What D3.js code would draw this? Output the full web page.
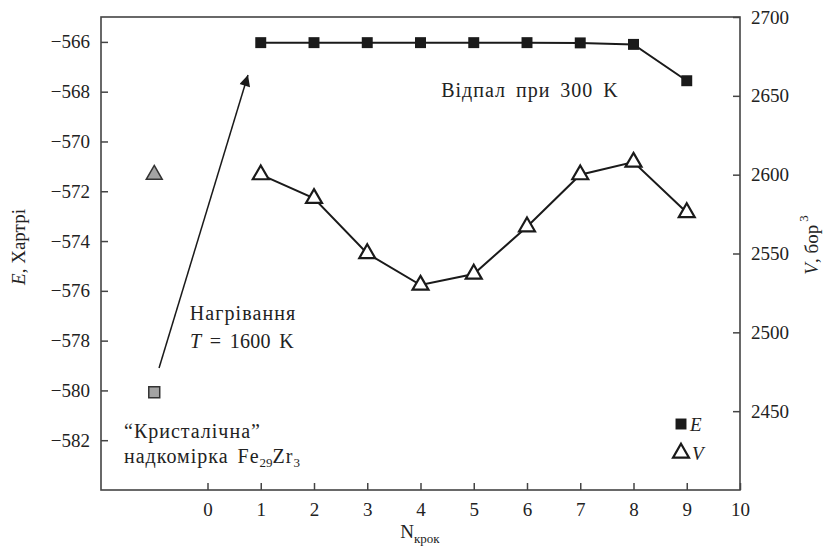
<!DOCTYPE html>
<html><head><meta charset="utf-8">
<script src="https://cdn.jsdelivr.net/npm/d3@7"></script>
<style>body{margin:0;background:#fff}svg{display:block}</style>
</head><body>
<script>
// ---- data ----
const steps = [1, 2, 3, 4, 5, 6, 7, 8, 9];
const energy = [-566.03, -566.03, -566.03, -566.03, -566.03, -566.03, -566.04, -566.1, -567.56];
const volume = [2600, 2585, 2550, 2530, 2537, 2567, 2600, 2608, 2576];
const initialStep = -1;
const initialEnergy = -580.07;
const initialVolume = 2600;
const xTicks = [0, 1, 2, 3, 4, 5, 6, 7, 8, 9, 10];
const eTicks = [-582, -580, -578, -576, -574, -572, -570, -568, -566];
const vTicks = [2450, 2500, 2550, 2600, 2650, 2700];
const arrowFrom = [-0.91, -579.1];
const arrowTo = [0.76, -567.33];

const W = 824, H = 548;
const m = {left: 101, right: 740, top: 17, bottom: 490};
const FONT = "'Liberation Serif'";
const svg = d3.select("body").append("svg").attr("width", W).attr("height", H)
  .attr("font-family", FONT);

const x = d3.scaleLinear().domain([-2, 10]).range([m.left, m.right]);
const yE = d3.scaleLinear().domain([-584, -565]).range([m.bottom, m.top]);
const yV = d3.scaleLinear().domain([2400, 2700]).range([m.bottom, m.top]);

const axisColor = "#444";
const fs = 19;
const afs = 20;

function styleAxis(g) {
  g.attr("font-family", FONT);
  g.select(".domain").remove();
  g.selectAll(".tick line").attr("stroke", axisColor).attr("stroke-width", 1.5);
  g.selectAll(".tick text").attr("font-size", fs).attr("fill", "#222")
    .attr("font-family", FONT);
}

svg.append("g").attr("transform", `translate(${m.left},0)`)
  .call(d3.axisLeft(yE).tickValues(eTicks).tickSize(-7).tickPadding(11).tickFormat(d3.format("d")))
  .call(styleAxis);
svg.append("g").attr("transform", `translate(${m.right},0)`)
  .call(d3.axisRight(yV).tickValues(vTicks).tickSize(-7).tickPadding(11).tickFormat(d3.format("d")))
  .call(styleAxis);
svg.append("g").attr("transform", `translate(0,${m.bottom})`)
  .call(d3.axisBottom(x).tickValues(xTicks).tickSize(-7).tickPadding(13).tickFormat(d3.format("d")))
  .call(styleAxis);

// frame
svg.append("rect").attr("x", m.left).attr("y", m.top)
  .attr("width", m.right - m.left).attr("height", m.bottom - m.top)
  .attr("fill", "none").attr("stroke", axisColor).attr("stroke-width", 1.6);

// lines
const lineE = d3.line().x((d, i) => x(steps[i])).y(d => yE(d));
const lineV = d3.line().x((d, i) => x(steps[i])).y(d => yV(d));
svg.append("path").attr("d", lineE(energy)).attr("fill", "none").attr("stroke", "#1a1a1a").attr("stroke-width", 2);
svg.append("path").attr("d", lineV(volume)).attr("fill", "none").attr("stroke", "#1a1a1a").attr("stroke-width", 2);

const sq = d3.symbol().type(d3.symbolSquare).size(120);
const tri = d3.symbol().type(d3.symbolTriangle).size(110);

svg.selectAll(".e").data(energy).enter().append("path")
  .attr("d", sq).attr("transform", (d, i) => `translate(${x(steps[i])},${yE(d)})`)
  .attr("fill", "#1a1a1a");
svg.selectAll(".v").data(volume).enter().append("path")
  .attr("d", tri).attr("transform", (d, i) => `translate(${x(steps[i])},${yV(d)})`)
  .attr("fill", "#fff").attr("stroke", "#1a1a1a").attr("stroke-width", 2.2);

// initial points
svg.append("path").attr("d", sq).attr("transform", `translate(${x(initialStep)},${yE(initialEnergy)})`)
  .attr("fill", "#a3a3a3").attr("stroke", "#333").attr("stroke-width", 1.5);
svg.append("path").attr("d", tri).attr("transform", `translate(${x(initialStep)},${yV(initialVolume)})`)
  .attr("fill", "#a3a3a3").attr("stroke", "#333").attr("stroke-width", 1.5);

// arrow
svg.append("defs").append("marker").attr("id", "ah")
  .attr("viewBox", "0 0 10 10").attr("refX", 10).attr("refY", 5)
  .attr("markerWidth", 17).attr("markerHeight", 11).attr("markerUnits", "userSpaceOnUse")
  .attr("orient", "auto")
  .append("path").attr("d", "M0,0 L10,5 L0,10 Z").attr("fill", "#1a1a1a");
svg.append("line")
  .attr("x1", x(arrowFrom[0])).attr("y1", yE(arrowFrom[1]))
  .attr("x2", x(arrowTo[0])).attr("y2", yE(arrowTo[1]))
  .attr("stroke", "#1a1a1a").attr("stroke-width", 1.5).attr("marker-end", "url(#ah)");

// annotations
function txt(xp, yp, anchor, size) {
  return svg.append("text").attr("x", xp).attr("y", yp).attr("font-size", size || afs)
    .attr("font-family", FONT).attr("fill", "#222").attr("text-anchor", anchor || "start");
}
txt(530, 97, "middle").attr("letter-spacing", 1).attr("word-spacing", 4).text("Відпал при 300 K");
txt(243, 320, "middle").attr("letter-spacing", 1.1).text("Нагрівання");
const t2 = txt(242, 348, "middle").attr("word-spacing", 3).attr("letter-spacing", 0.3);
t2.append("tspan").attr("font-style", "italic").text("T");
t2.append("tspan").text(" = 1600 K");
txt(124, 438).attr("letter-spacing", 1).text("“Кристалічна”");
const t4 = txt(124, 463).attr("word-spacing", 3).attr("letter-spacing", 1);
t4.append("tspan").text("надкомірка Fe");
t4.append("tspan").attr("font-size", 13).attr("dy", 4).attr("letter-spacing", 0).text("29");
t4.append("tspan").attr("dy", -4).text("Zr");
t4.append("tspan").attr("font-size", 13).attr("dy", 4).text("3");

// legend
svg.append("path").attr("d", sq).attr("transform", "translate(681,424)").attr("fill", "#1a1a1a");
txt(690, 431, "start", fs).attr("font-style", "italic").text("E");
svg.append("path").attr("d", tri).attr("transform", "translate(681,453)")
  .attr("fill", "#fff").attr("stroke", "#1a1a1a").attr("stroke-width", 2.2);
txt(692, 460, "start", fs).attr("font-style", "italic").text("V");

// axis titles
const yl = svg.append("text").attr("transform", "translate(25,247) rotate(-90)")
  .attr("text-anchor", "middle").attr("font-size", fs).attr("font-family", FONT).attr("fill", "#222");
yl.append("tspan").attr("font-style", "italic").text("E");
yl.append("tspan").text(", Хартрі");

const yr = svg.append("text").attr("transform", "translate(818,245) rotate(-90)")
  .attr("text-anchor", "middle").attr("font-size", fs).attr("font-family", FONT).attr("fill", "#222");
yr.append("tspan").attr("font-style", "italic").text("V");
yr.append("tspan").text(", бор");
yr.append("tspan").attr("font-size", 13).attr("dy", -10).attr("dx", 3).text("3");

const xl = txt(420, 538, "middle", fs);
xl.append("tspan").text("N");
xl.append("tspan").attr("font-size", 13).attr("dy", 5).text("крок");
</script>
</body></html>
